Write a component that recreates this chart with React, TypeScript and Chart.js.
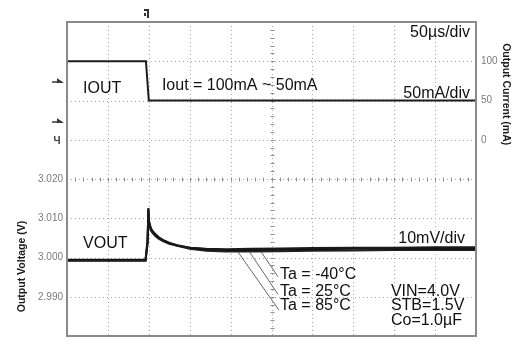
import React, { useEffect, useRef } from "react";
import { Chart, registerables } from "chart.js";

Chart.register(...registerables);

// ---------- data ----------
// time axis in microseconds (50 µs/div, 10 divisions)
const TIME_US = [0, 96, 98.5, 99.5, 100.3, 101, 102.5, 104.5, 108, 112, 118, 125, 135, 150, 170, 195, 225, 260, 300, 350, 400, 450, 500];
// output voltage (V) for the three ambient temperatures
const VOUT_M40 = [2.9992, 2.9992, 3.0035, 3.0118, 3.0076, 3.0080, 3.0069, 3.0063, 3.0055, 3.0048, 3.0041, 3.0035, 3.0030, 3.0025, 3.0022, 3.0021, 3.0022, 3.0023, 3.0024, 3.0025, 3.0025, 3.0026, 3.0026];
const VOUT_25 = [2.9993, 2.9993, 3.0040, 3.0124, 3.0080, 3.0084, 3.0072, 3.0066, 3.0058, 3.0050, 3.0043, 3.0037, 3.0031, 3.0025, 3.0021, 3.0019, 3.0019, 3.0020, 3.0021, 3.0022, 3.0022, 3.0022, 3.0022];
const VOUT_85 = [2.9994, 2.9994, 3.0045, 3.0126, 3.0083, 3.0087, 3.0075, 3.0068, 3.0060, 3.0052, 3.0044, 3.0037, 3.0030, 3.0022, 3.0017, 3.0015, 3.0015, 3.0016, 3.0017, 3.0018, 3.0019, 3.0019, 3.0019];
// output current (mA)
const IOUT_TIME_US = [0, 96.5, 100, 500];
const IOUT_MA = [100, 100, 50, 50];

// leader lines from the traces to the temperature labels
const LEAD_M40_T = [237.5, 258];
const LEAD_M40_V = [3.0014, 2.99508];
const LEAD_25_T = [223.3, 258];
const LEAD_25_V = [3.0014, 2.99058];
const LEAD_85_T = [209, 259.2];
const LEAD_85_V = [3.0014, 2.98658];

// scales / divisions
const X_DIVS = [0, 50, 100, 150, 200, 250, 300, 350, 400, 450, 500];
const V_DIVS = [2.98, 2.99, 3.0, 3.01, 3.02, 3.03, 3.04, 3.05, 3.06];
const V_TICK_LABELS = [2.99, 3.0, 3.01, 3.02];
const I_TICK_LABELS = [0, 50, 100];

const FONT = "'Liberation Sans', Arial, Helvetica, sans-serif";

type Note = { text: string; t: number; v: number; axis: "yV" | "yI"; align: CanvasTextAlign };
const NOTES: Note[] = [
  { text: "IOUT", t: 19.6, v: 59, axis: "yI", align: "left" },
  { text: "Iout = 100mA ~ 50mA", t: 116, v: 62.8, axis: "yI", align: "left" },
  { text: "50µs/div", t: 492.7, v: 131.3, axis: "yI", align: "right" },
  { text: "50mA/div", t: 492.7, v: 52.8, axis: "yI", align: "right" },
  { text: "VOUT", t: 19.6, v: 3.00236, axis: "yV", align: "left" },
  { text: "10mV/div", t: 486.5, v: 3.00375, axis: "yV", align: "right" },
  { text: "Ta = -40°C", t: 260.4, v: 2.99446, axis: "yV", align: "left" },
  { text: "Ta = 25°C", t: 260.4, v: 2.99029, axis: "yV", align: "left" },
  { text: "Ta = 85°C", t: 260.4, v: 2.98655, axis: "yV", align: "left" },
  { text: "VIN=4.0V", t: 396, v: 2.99029, axis: "yV", align: "left" },
  { text: "STB=1.5V", t: 396, v: 2.98655, axis: "yV", align: "left" },
  { text: "Co=1.0µF", t: 396, v: 2.98274, axis: "yV", align: "left" },
];

const pts = (xs: number[], ys: number[]) => xs.map((x, i) => ({ x, y: ys[i] }));

const scopePlugin = {
  id: "scope",
  beforeDatasetsDraw(chart: any) {
    const { ctx, chartArea: a, scales } = chart;
    const x = scales.x;
    const yV = scales.yV;
    ctx.save();
    ctx.lineWidth = 1;
    ctx.strokeStyle = "#a9a9a9";
    ctx.setLineDash([1, 3]);
    X_DIVS.forEach((t) => {
      const px = Math.round(x.getPixelForValue(t)) + 0.5;
      ctx.beginPath();
      ctx.moveTo(px, a.top);
      ctx.lineTo(px, a.bottom);
      ctx.stroke();
    });
    V_DIVS.forEach((v) => {
      const py = Math.round(yV.getPixelForValue(v)) + 0.5;
      ctx.beginPath();
      ctx.moveTo(a.left, py);
      ctx.lineTo(a.right, py);
      ctx.stroke();
    });
    ctx.setLineDash([]);
    // centre graticule minor ticks (1/5 division)
    ctx.strokeStyle = "#8e8e8e";
    const cx = Math.round(x.getPixelForValue(250)) + 0.5;
    const cy = Math.round(yV.getPixelForValue(3.02)) + 0.5;
    for (let t = 0; t <= 500; t += 10) {
      const px = Math.round(x.getPixelForValue(t)) + 0.5;
      ctx.beginPath();
      ctx.moveTo(px, cy - 2);
      ctx.lineTo(px, cy + 2);
      ctx.stroke();
    }
    for (let k = 0; k <= 40; k++) {
      const py = Math.round(yV.getPixelForValue(2.98 + k * 0.002)) + 0.5;
      ctx.beginPath();
      ctx.moveTo(cx - 2, py);
      ctx.lineTo(cx + 2, py);
      ctx.stroke();
    }
    ctx.restore();
  },
  afterDraw(chart: any) {
    const { ctx, chartArea: a, scales } = chart;
    ctx.save();
    // frame
    ctx.strokeStyle = "#8a8a8a";
    ctx.lineWidth = 2;
    ctx.strokeRect(a.left, a.top, a.right - a.left, a.bottom - a.top);

    // notes
    ctx.fillStyle = "#111";
    ctx.font = `16px ${FONT}`;
    ctx.textBaseline = "alphabetic";
    NOTES.forEach((n) => {
      ctx.textAlign = n.align;
      ctx.fillText(n.text, scales.x.getPixelForValue(n.t), scales[n.axis].getPixelForValue(n.v));
    });

    // axis titles
    ctx.font = `bold 10.5px ${FONT}`;
    ctx.fillStyle = "#1a1a1a";
    ctx.textAlign = "center";
    ctx.textBaseline = "middle";
    ctx.save();
    ctx.translate(22, scales.yV.getPixelForValue(2.9977));
    ctx.rotate(-Math.PI / 2);
    ctx.fillText("Output Voltage (V)", 0, 0);
    ctx.restore();
    ctx.save();
    ctx.translate(a.right + 30, scales.yI.getPixelForValue(58));
    ctx.rotate(Math.PI / 2);
    ctx.fillText("Output Current (mA)", 0, 0);
    ctx.restore();

    // channel / trigger markers
    ctx.fillStyle = "#3a3a3a";
    ctx.strokeStyle = "#3a3a3a";
    ctx.lineWidth = 1.5;
    [75, 24].forEach((mA) => {
      const py = Math.round(scales.yI.getPixelForValue(mA));
      ctx.beginPath();
      ctx.moveTo(a.left - 15, py + 1);
      ctx.lineTo(a.left - 5, py + 1);
      ctx.stroke();
      ctx.beginPath();
      ctx.moveTo(a.left - 10, py - 3);
      ctx.lineTo(a.left - 3, py + 2);
      ctx.lineTo(a.left - 10, py + 2);
      ctx.closePath();
      ctx.fill();
    });
    const gy = Math.round(scales.yI.getPixelForValue(-2));
    ctx.font = `bold 10px ${FONT}`;
    ctx.textAlign = "center";
    ctx.fillText("Ч", a.left - 10, gy);
    const tx = Math.round(scales.x.getPixelForValue(99));
    ctx.fillStyle = "#333";
    ctx.fillRect(tx - 4, a.top - 13, 5, 2);
    ctx.fillRect(tx - 1, a.top - 13, 2, 9);
    ctx.fillRect(tx - 4, a.top - 9, 2, 3);
    ctx.restore();
  },
};

export default function App() {
  const ref = useRef<HTMLCanvasElement | null>(null);
  useEffect(() => {
    if (!ref.current) return;
    const trace = (data: any[], axis: string, color: string, width: number) => ({
      data,
      yAxisID: axis,
      borderColor: color,
      borderWidth: width,
      pointRadius: 0,
      tension: 0,
      fill: false,
    });
    const chart = new Chart(ref.current, {
      type: "line",
      data: {
        datasets: [
          trace(pts(LEAD_M40_T, LEAD_M40_V), "yV", "#666", 1),
          trace(pts(LEAD_25_T, LEAD_25_V), "yV", "#666", 1),
          trace(pts(LEAD_85_T, LEAD_85_V), "yV", "#666", 1),
          trace(pts(IOUT_TIME_US, IOUT_MA), "yI", "#1c1c1c", 2),
          trace(pts(TIME_US, VOUT_M40), "yV", "#1a1a1a", 2),
          trace(pts(TIME_US, VOUT_25), "yV", "#111", 2),
          trace(pts(TIME_US, VOUT_85), "yV", "#222", 2),
        ],
      },
      options: {
        responsive: false,
        animation: false,
        devicePixelRatio: 1,
        events: [],
        layout: { padding: { top: 22, left: 0, right: 0, bottom: 0 } },
        plugins: { legend: { display: false }, tooltip: { enabled: false } },
        scales: {
          x: {
            type: "linear",
            min: 0,
            max: 500,
            position: "bottom",
            grid: { display: false, drawTicks: false },
            border: { display: false },
            ticks: { display: false },
            afterFit: (s: any) => {
              s.height = 4;
            },
          },
          yV: {
            type: "linear",
            position: "left",
            min: 2.98,
            max: 3.06,
            grid: { display: false, drawTicks: false },
            border: { display: false },
            afterBuildTicks: (s: any) => {
              s.ticks = V_TICK_LABELS.map((v) => ({ value: v }));
            },
            ticks: {
              autoSkip: false,
              padding: 4,
              color: "#7a7a7a",
              font: { family: FONT, size: 10 },
              callback: (v: any) => Number(v).toFixed(3),
            },
            afterFit: (s: any) => {
              s.width = 67;
            },
          },
          yI: {
            type: "linear",
            position: "right",
            min: -250,
            max: 150,
            grid: { display: false, drawTicks: false },
            border: { display: false },
            afterBuildTicks: (s: any) => {
              s.ticks = I_TICK_LABELS.map((v) => ({ value: v }));
            },
            ticks: {
              autoSkip: false,
              padding: 5,
              color: "#7a7a7a",
              font: { family: FONT, size: 10 },
              callback: (v: any) => String(v),
            },
            afterFit: (s: any) => {
              s.width = 42;
            },
          },
        },
      },
      plugins: [scopePlugin],
    } as any);
    return () => chart.destroy();
  }, []);
  return (
    <div style={{ position: "fixed", left: 0, top: 0, width: 518, height: 347, background: "#fff" }}>
      <canvas ref={ref} width={518} height={347} style={{ display: "block" }} />
    </div>
  );
}
